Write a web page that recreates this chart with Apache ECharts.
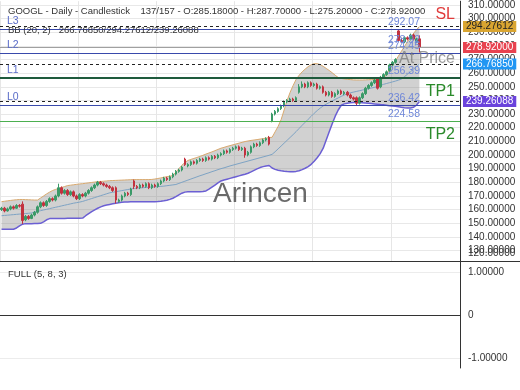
<!DOCTYPE html>
<html><head><meta charset="utf-8">
<script src="https://cdn.jsdelivr.net/npm/echarts@6/dist/echarts.min.js"></script>
<style>html,body{margin:0;padding:0;background:#fff}#c{width:520px;height:390px}</style>
</head><body><div id="c"></div>
<script>
// ---- data ----
const opens = [160,161,159,160.5,162,161,163,164,152.5,155,153.5,156,158,162,165,163,166,168,167,170,
176,172,174,171,173,170,168,171,170,172,174,176,178,180,179,178,177,176,176,166,
167,170,172,171,181,177,176,178,177,179,176,178,177,179,181,183,182,184,186,188,
189,197,192,193,195,194,196,197,196,198,197,199,198,200,201,203,202,204,205,206,
204,205,200,202,206,208,207,209,211,213,225,230,232,234,236,239,240,241,240,246,
250,252,250,253,251,252,249,250,246,244,246,243,245,247,245,246,244,242,242,238,
242,245,249,251,253,256,250,257,259,262,266,268,291,284,283,286,285,288,283,285.18];
const closes = [161,159,160.5,162,161,163,162.5,152,155,153.5,156,158,162,165,163,166,168,167,170,176,
172,174,171,173,170,168,171,170,172,174,176,178,180,179,178,177,176,174,167,167,
170,172,171,175,177,176,178,177,179,176,178,177,179,181,183,182,184,186,188,189,
191,193,193,195,194,196,197,196,198,197,199,198,200,201,203,202,204,205,206,204,
205,200,202,206,208,207,209,211,212,208,230,232,234,236,239,240,241,240,242,250,
252,250,253,251,252,249,250,246,244,246,243,245,247,245,246,244,242,241,238,242,
245,249,251,253,255,249,257,259,261,266,268,270,284,283,286,285,288,285,285.18,278.92];
const highs = [162,162,161.5,163,163,164,164,166,156,156,157,159,163,166,166,167,169,169,171,179,
177,175,175,174,174,171,172,172,173,175,177,179,181,181,180,179,178,177,177,168,
171,173,173,176,182,178,179,179,180,180,179,179,180,182,184,184,185,187,189,190,
192,198,194,196,196,197,198,198,199,199,200,200,201,202,204,204,205,206,207,207,
206,206,203,207,209,209,210,212,213,214,231,233,235,237,240,241,242,242,243,252,
254,253,254,254,253,253,251,251,247,247,247,246,248,248,247,247,245,243,243,243,
246,250,252,254,256,257,258,260,262,267,269,271,292.07,286,287,287,289,289,286,287.7];
const lows = [159,158,158.5,159.5,160,160.5,161.5,149.5,151.5,152.5,153,155,157,161,162,162,165,166,166,169,
171,171,170,170,169,167,167,169,169,171,173,175,177,178,177,176,175,173,164.5,165,
166,169,170,170,175,175,175,176,176,175,175,176,176,178,180,181,181,183,185,187,
188,192,191,192,193,193,195,195,195,196,196,197,197,199,200,201,201,203,204,203,
203,198,199,201,205,206,206,208,210,207,224,229,231,233,235,238,239,239,239,245,
249,249,249,250,250,248,248,245,243,243,242,242,244,244,244,243,241,240,236.5,237,
241,244,248,250,252,248,249,256,258,261,265,267,283,282,282,284,284,284,282,275.2];
const bbUpper = [165.8,166.1,166.4,166.7,167.0,167.2,167.4,167.4,167.3,167.2,167.1,167.0,167.0,
168.5,170.0,171.5,172.8,174.0,174.8,175.5,176.2,176.9,177.6,177.9,178.2,178.5,178.8,179.0,
179.3,179.6,179.9,180.2,180.4,180.6,180.8,181.0,181.2,
181.3,181.4,181.5,181.6,181.7,181.8,181.9,182.0,182.0,182.0,182.0,182.0,182.0,182.1,
182.4,182.8,183.2,183.7,184.1,184.5,185.0,187.5,190.0,192.5,194.5,196.0,
196.8,197.5,198.2,199.0,199.8,200.7,201.5,202.3,203.2,204.1,205.0,
205.6,206.3,206.9,207.5,208.1,208.7,209.3,209.9,210.3,210.7,211.0,211.3,211.7,212.0,212.4,212.8,
213.0,217.0,221.0,226.0,233.0,240.0,246.0,251.0,255.5,258.5,261.0,263.0,264.8,266.2,267.0,
267.0,266.3,265.0,263.5,262.0,260.3,258.5,256.8,256.2,255.8,255.5,255.3,255.1,255.0,255.0,255.0,
255.1,255.2,255.3,255.4,255.5,255.6,256.0,259.0,262.5,266.0,269.0,
272.5,276.0,279.5,283.0,286.0,289.0,291.8,294.28];
const bbMiddle = [155.5,155.7,155.9,156.1,156.3,156.5,156.7,156.9,157.1,157.3,157.5,
158.2,158.7,159.2,159.7,160.2,160.7,161.2,161.7,162.2,162.7,163.2,163.7,164.2,164.7,165.1,165.5,
166.0,166.7,167.4,168.1,168.8,169.5,170.2,170.9,171.6,172.3,
172.7,173.1,173.5,173.9,174.3,174.7,175.1,175.5,
175.7,175.9,176.0,176.2,176.4,176.5,176.7,176.8,177.0,
177.2,177.5,177.8,178.1,178.4,
179.2,180.0,180.8,181.6,182.4,183.2,184.0,184.8,
185.5,186.3,187.0,187.8,188.5,189.3,190.0,
190.6,191.3,192.0,192.6,193.2,193.8,194.4,195.0,195.6,196.2,196.8,197.4,198.0,198.6,199.2,199.8,200.5,
202.4,204.5,206.6,208.7,210.8,212.9,215.0,217.2,219.5,
221.8,224.0,226.2,228.4,230.6,232.6,234.4,236.0,
237.3,238.5,239.7,240.8,241.9,243.0,244.0,245.0,
245.6,246.1,246.6,247.1,247.6,248.1,248.6,249.1,249.6,250.2,250.9,
251.8,252.4,253.0,253.6,254.2,254.9,255.7,
257.4,259.2,261.0,262.9,264.8,266.77];
const bbLower = [145.5,145.5,145.5,145.6,145.6,146.5,148.0,149.3,
149.7,149.7,149.7,149.8,149.8,149.9,151.0,152.5,153.4,
153.5,153.5,153.5,153.5,153.5,153.6,153.6,153.6,153.7,153.7,153.8,
155.5,157.0,158.5,159.8,161.0,162.0,162.8,163.4,163.8,
164.2,164.6,165.0,165.3,165.5,165.6,165.7,165.7,165.7,165.7,165.7,165.7,165.7,165.7,165.8,165.9,166.1,166.4,166.8,
167.5,168.3,169.5,170.8,
172.0,172.8,173.0,173.0,173.0,173.0,173.1,173.3,173.7,
175.0,176.5,178.0,179.5,181.0,
181.7,182.3,182.9,183.5,184.1,184.7,185.3,185.9,186.6,
187.6,188.7,189.8,190.8,191.5,192.0,192.3,190.5,
189.5,188.8,188.4,188.1,187.9,187.8,187.8,188.0,
188.5,189.3,190.3,191.5,193.2,195.5,198.0,201.0,205.0,
211.0,217.0,223.0,228.5,233.0,236.5,
237.5,238.0,238.4,238.6,238.6,238.5,238.3,238.1,237.9,237.7,237.5,237.3,237.0,236.8,236.5,236.2,
236.0,235.7,235.4,235.0,234.7,234.5,234.5,235.0,236.5,239.26];
const yTicks = [130,140,150,160,170,180,190,200,210,220,230,240,250,260,270,280,290,300,310];
const oscTicks = [-1,0,1];
const bbNow = {upper:294.27612, middle:266.7685, lower:239.26088};
const lastClose = 278.92;
const levels = {L3:292.07, L2:274.45, L1:256.39, L0:236.42, TP2:224.58};
const totalSlots = 153;

// ---- build ----
const categories = [];
for (let i = 0; i < totalSlots; i++) categories.push('Bar ' + (i + 1));
const candleData = opens.map((o, i) => [o, closes[i], lows[i], highs[i]]);
const bandSpan = bbUpper.map((u, i) => +(u - bbLower[i]).toFixed(4));

const FONT = 'Liberation Sans, Arial, sans-serif';
const blueTxt = '#6f87d8';
const lvlBlue = '#3949ab';
const hidden = {width: 0, color: 'rgba(0,0,0,0)', type: 'solid'};

function tagLine(v, lineStyle, text, bg, fg) {
  return {yAxis: v, lineStyle: lineStyle,
    label: {show: true, position: 'end', formatter: text, backgroundColor: bg, color: fg,
      fontSize: 10, fontFamily: FONT, padding: [1, 3, 0, 3], distance: 3}};
}
function lvlLine(v, color, width, name) {
  return {yAxis: v, lineStyle: {color: color, width: width, type: 'solid', opacity: 1},
    label: {show: true, position: 'insideStartTop', formatter: name, color: '#5a6cc8',
      fontSize: 10.5, fontFamily: FONT, distance: [7, 3]}};
}
function valLabel(v, text) {
  return {yAxis: v, lineStyle: hidden,
    label: {show: true, position: 'insideEndTop', formatter: text, color: blueTxt,
      fontSize: 10.5, fontFamily: FONT, distance: [40, 2]}};
}
function bigLabel(v, text, color, pos, dist) {
  return {yAxis: v, lineStyle: hidden,
    label: {show: true, position: pos, formatter: text, color: color,
      fontSize: 16, fontFamily: FONT, distance: dist}};
}

const chart = echarts.init(document.getElementById('c'), null, {renderer: 'canvas'});
chart.setOption({
  animation: false,
  backgroundColor: '#fff',
  grid: [
    {left: 0, top: 0, width: 460, height: 261},
    {left: 0, top: 261, width: 460, height: 107}
  ],
  xAxis: [
    {type: 'category', gridIndex: 0, data: categories, boundaryGap: true,
      axisLine: {show: true, lineStyle: {color: '#333'}}, axisTick: {show: false},
      axisLabel: {show: false, interval: 25},
      splitLine: {show: true, interval: 25, lineStyle: {color: '#e6e6e6'}}},
    {type: 'category', gridIndex: 1, data: categories, boundaryGap: true,
      axisLine: {show: true, lineStyle: {color: '#333'}}, axisTick: {show: false},
      axisLabel: {show: false}, splitLine: {show: false}}
  ],
  yAxis: [
    {type: 'value', gridIndex: 0, position: 'right', min: 122.3, max: 312.8,
      axisLine: {show: true, lineStyle: {color: '#333'}},
      axisTick: {show: false, customValues: yTicks},
      axisLabel: {customValues: yTicks, formatter: v => v.toFixed(5), color: '#333',
        fontSize: 10, fontFamily: FONT, margin: 8},
      splitLine: {show: true, lineStyle: {color: '#e8e8e8'}}},
    {type: 'value', gridIndex: 1, position: 'right', min: -1.22, max: 1.267,
      axisLine: {show: true, lineStyle: {color: '#333'}},
      axisTick: {show: false, customValues: oscTicks},
      axisLabel: {customValues: oscTicks, formatter: v => v === 0 ? '0' : v.toFixed(5),
        color: '#333', fontSize: 10, fontFamily: FONT, margin: 8},
      splitLine: {show: true, lineStyle: {color: '#ececec'}}}
  ],
  series: [
    {name: 'bbBase', type: 'line', data: bbLower, stack: 'bb', symbol: 'none',
      lineStyle: {opacity: 0}, silent: true, z: 1},
    {name: 'bbFill', type: 'line', data: bandSpan, stack: 'bb', symbol: 'none',
      lineStyle: {opacity: 0}, areaStyle: {color: 'rgba(125,125,125,0.5)'}, silent: true, z: 1},
    {name: 'upper', type: 'line', data: bbUpper, symbol: 'none',
      lineStyle: {color: '#d9a96e', width: 1}, z: 2},
    {name: 'lower', type: 'line', data: bbLower, symbol: 'none',
      lineStyle: {color: '#6b5fd3', width: 1.5}, z: 2},
    {name: 'middle', type: 'line', data: bbMiddle, symbol: 'none',
      lineStyle: {color: '#7ea3c4', width: 1}, z: 2},
    {name: 'GOOGL', type: 'candlestick', data: candleData, barWidth: 2, z: 3,
      itemStyle: {color: '#3a9a68', color0: '#c2323f', borderColor: '#3a9a68', borderColor0: '#c2323f', borderWidth: 1}},
    {name: 'levels', type: 'line', data: [], symbol: 'none', z: 4,
      markLine: {silent: true, symbol: 'none', animation: false,
        data: [
          lvlLine(levels.L3, lvlBlue, 1, 'L3'),
          lvlLine(levels.L2, lvlBlue, 1, 'L2'),
          lvlLine(levels.L1, '#1e5a3c', 2, 'L1'),
          lvlLine(levels.L0, lvlBlue, 1, 'L0'),
          {yAxis: levels.TP2, lineStyle: {color: '#4caf50', width: 1, type: 'solid'}, label: {show: false}},
          tagLine(bbNow.upper, {color: '#222', width: 1, type: [3, 3]}, '294.27612', '#d9a531', '#222'),
          tagLine(lastClose, {color: '#a0a0a0', width: 1, type: 'solid'}, '278.92000', '#e8424f', '#fff'),
          tagLine(bbNow.middle, {color: '#222', width: 1, type: [3, 3]}, '266.76850', '#2196f3', '#fff'),
          tagLine(bbNow.lower, {color: '#222', width: 1, type: [3, 3]}, '239.26088', '#6a43dc', '#fff'),
          valLabel(levels.L3, '292.07'),
          valLabel(lastClose, '278.92'),
          valLabel(levels.L2, '274.45'),
          valLabel(levels.L1, '256.39'),
          valLabel(levels.L0, '236.42'),
          valLabel(levels.TP2, '224.58'),
          bigLabel(bbNow.upper, 'SL', '#e03a3a', 'insideEndTop', [5, 4]),
          bigLabel(bbNow.middle, 'At Price', 'rgba(120,120,120,0.75)', 'insideEndTop', [5, -3]),
          bigLabel(levels.L1, 'TP1', '#2a8a2a', 'insideEndBottom', [5, 5]),
          bigLabel(levels.TP2, 'TP2', '#2a8a2a', 'insideEndBottom', [5, 5])
        ]}},
    {name: 'FULL', type: 'line', xAxisIndex: 1, yAxisIndex: 1, data: [], symbol: 'none'}
  ],
  graphic: [
    {type: 'text', left: 8, top: 6, z: 10, style: {text: 'GOOGL - Daily - Candlestick    137/157 - O:285.18000 - H:287.70000 - L:275.20000 - C:278.92000', fill: '#333', font: '9.5px ' + FONT}},
    {type: 'text', left: 8, top: 25, z: 10, style: {text: 'BB (20, 2)   266.76850/294.27612/239.26088', fill: '#333', font: '9.5px ' + FONT}},
    {type: 'text', left: 8, top: 269, z: 10, style: {text: 'FULL (5, 8, 3)', fill: '#333', font: '9.5px ' + FONT}},
    {type: 'text', left: 468, top: 248, z: 10, style: {text: '120.00000', fill: '#333', font: '10px ' + FONT}},
    {type: 'text', left: 213, top: 180, z: 10, style: {text: 'Arincen', fill: 'rgba(80,80,80,0.85)', font: '28px ' + FONT}},
    {type: 'line', z: 10, shape: {x1: 460, y1: 261.5, x2: 520, y2: 261.5}, style: {stroke: '#333', lineWidth: 1}}
  ]
});
</script></body></html>
